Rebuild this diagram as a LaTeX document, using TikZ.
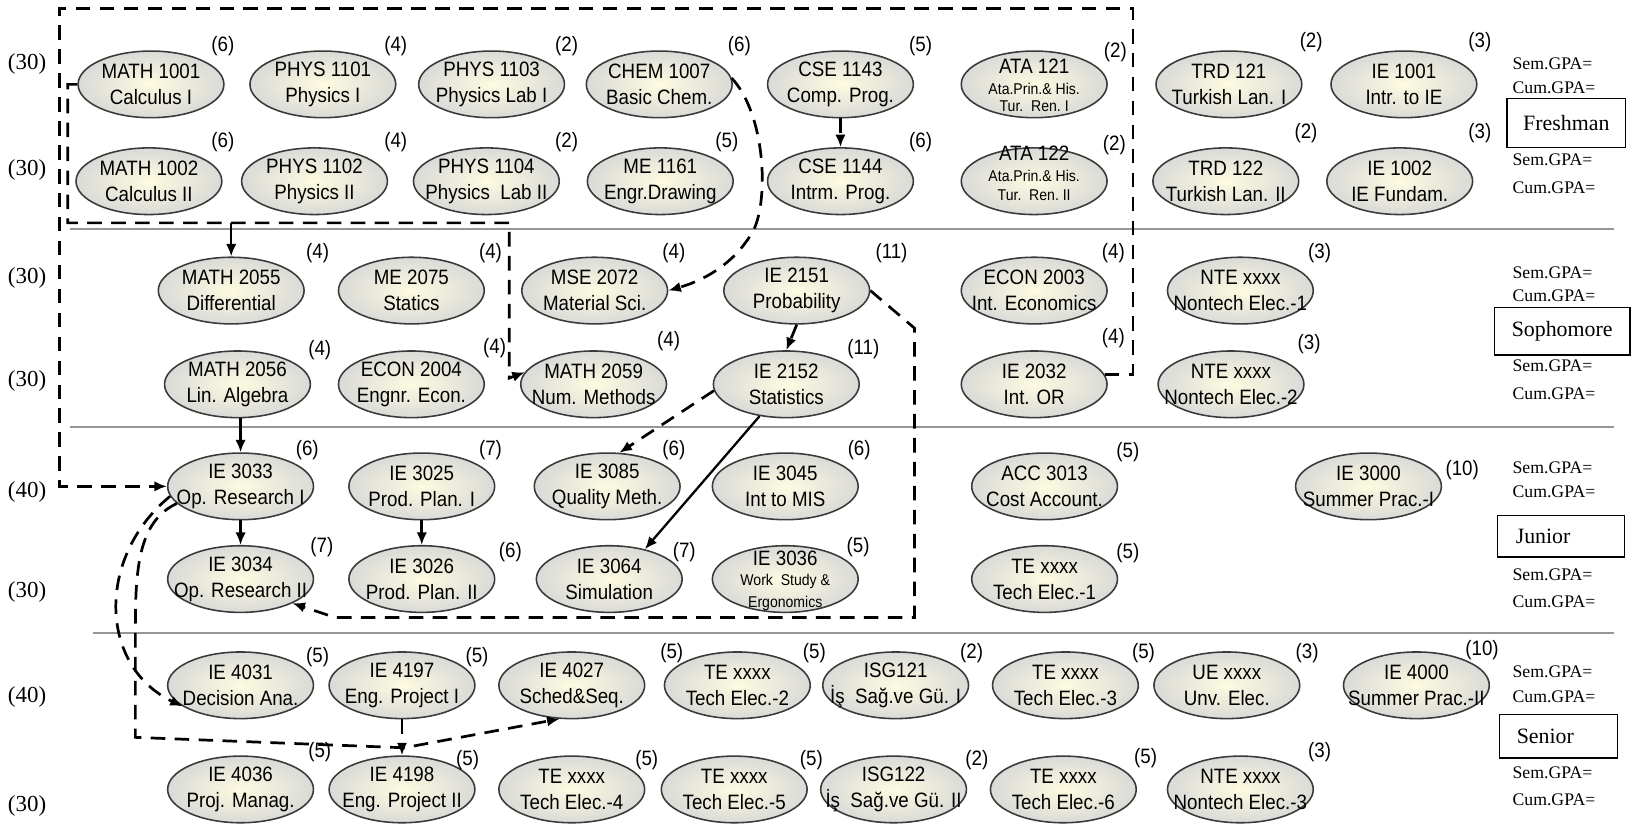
\documentclass[tikz,border=0pt]{standalone}
\usepackage{fontspec}
\setmainfont{Liberation Serif}
\newfontfamily\nsans{Liberation Sans}[FakeStretch=0.9]
\usetikzlibrary{shapes.geometric,arrows.meta}
\definecolor{ellout}{RGB}{218,218,216}
\definecolor{ellin}{RGB}{253,251,224}
\definecolor{ellline}{RGB}{58,58,58}
\definecolor{sepgray}{RGB}{150,150,150}
\tikzset{
  crs/.style={ellipse, draw=ellline, line width=0.75pt, inner color=ellin, outer color=ellout,
              minimum width=70pt, minimum height=32pt, inner sep=0pt},
  ctext/.style={font={\nsans\fontsize{10}{12.5}\selectfont}, align=center, inner sep=0pt},
  csmall/.style={font={\nsans\fontsize{7.5}{9}\selectfont}, inner sep=0pt},
  cred/.style={font={\nsans\fontsize{10}{12}\selectfont}, inner sep=0pt},
  rowlab/.style={font={\fontsize{11}{13}\selectfont}, inner sep=0pt},
  gpa/.style={font={\fontsize{8.5}{10}\selectfont}, anchor=west, inner sep=0pt},
  yearbox/.style={draw, line width=0.7pt, inner sep=0pt},
  yeartext/.style={font={\fontsize{10.5}{12}\selectfont}, inner sep=0pt},
  dsh/.style={line width=1.3pt, dash pattern=on 7pt off 4.5pt},
  sol/.style={line width=1.1pt},
  arr/.style={-{Latex[length=6pt,width=5pt]}},
  sep/.style={draw=sepgray, line width=0.8pt}
}
\newcommand\Crs[6]{%
  \node[crs] (#1) at (#2,#3) {};
  \node[ctext] (#1-t) at (#1.center) {#4};
  \node[cred] (#1-c) at (#5) {(#6)};}
\begin{document}
\begin{tikzpicture}[x=0.5pt,y=-0.5pt]
\fill[white] (0,0) rectangle (1568,794);
\useasboundingbox (0,0) rectangle (1568,794);

% separators
\draw[sep] (67,220) -- (1550,220);
\draw[sep] (67,410) -- (1550,410);
\draw[sep] (89,608) -- (1550,608);

% row labels
\node[rowlab] (l1) at (26,61) {(30)};
\node[rowlab] (l2) at (26,163) {(30)};
\node[rowlab] (l3) at (26,267) {(30)};
\node[rowlab] (l4) at (26,366) {(30)};
\node[rowlab] (l5) at (26,472) {(40)};
\node[rowlab] (l6) at (26,568) {(30)};
\node[rowlab] (l7) at (26,669) {(40)};
\node[rowlab] (l8) at (26,774) {(30)};

% Row 1
\Crs{m1001}{145}{81}{MATH 1001\\Calculus I}{214,44}{6}
\Crs{p1101}{310}{81}{PHYS 1101\\Physics I}{380,44}{4}
\Crs{p1103}{472}{81}{PHYS 1103\\Physics Lab I}{544,44}{2}
\Crs{c1007}{633}{81}{CHEM 1007\\Basic Chem.}{710,44}{6}
\Crs{cse1143}{807}{81}{CSE 1143\\Comp. Prog.}{884,44}{5}
\Crs{ata121}{993}{81}{}{1071,50}{2}
\node[ctext] (ata121-a) at ([yshift=8.5pt]ata121.center) {ATA 121};
\node[csmall] (ata121-b) at ([yshift=-2pt]ata121.center) {Ata.Prin.\& His.};
\node[csmall] (ata121-d) at ([yshift=-10.5pt]ata121.center) {Tur.\ \ Ren.\ I};
\Crs{trd121}{1180}{81}{TRD 121\\Turkish Lan. I}{1259,40}{2}
\Crs{ie1001}{1348}{81}{IE 1001\\Intr. to IE}{1421,40}{3}

% Row 2
\Crs{m1002}{143}{174}{MATH 1002\\Calculus II}{214,136}{6}
\Crs{p1102}{302}{174}{PHYS 1102\\Physics II}{380,136}{4}
\Crs{p1104}{467}{174}{PHYS 1104\\Physics\ \ Lab II}{544,136}{2}
\Crs{me1161}{634}{174}{ME 1161\\Engr.Drawing}{698,136}{5}
\Crs{cse1144}{807}{174}{CSE 1144\\Intrm. Prog.}{884,136}{6}
\Crs{ata122}{993}{174}{}{1070,139}{2}
\node[ctext] (ata122-a) at ([yshift=13.5pt]ata122.center) {ATA 122};
\node[csmall] (ata122-b) at ([yshift=2.5pt]ata122.center) {Ata.Prin.\& His.};
\node[csmall] (ata122-d) at ([yshift=-6.5pt]ata122.center) {Tur.\ \ Ren.\ II};
\Crs{trd122}{1177}{174}{TRD 122\\Turkish Lan. II}{1254,128}{2}
\Crs{ie1002}{1344}{174}{IE 1002\\IE Fundam.}{1421,128}{3}

% Row 3
\Crs{m2055}{222}{279}{MATH 2055\\Differential}{305,243}{4}
\Crs{me2075}{395}{279}{ME 2075\\Statics}{471,243}{4}
\Crs{mse2072}{571}{279}{MSE 2072\\Material Sci.}{647,243}{4}
\Crs{ie2151}{765}{279}{IE 2151\\Probability}{856,243}{11}
\Crs{econ2003}{993}{279}{ECON 2003\\Int. Economics}{1069,243}{4}
\Crs{nte1}{1191}{279}{NTE xxxx\\Nontech Elec.-1}{1267,243}{3}

% Row 4
\Crs{m2056}{228}{369}{MATH 2056\\Lin. Algebra}{307,336}{4}
\Crs{econ2004}{395}{369}{ECON 2004\\Engnr. Econ.}{475,334}{4}
\Crs{m2059}{570}{369}{MATH 2059\\Num. Methods}{642,328}{4}
\Crs{ie2152}{755}{369}{IE 2152\\Statistics}{829,335}{11}
\Crs{ie2032}{993}{369}{IE 2032\\Int. OR}{1069,325}{4}
\Crs{nte2}{1182}{369}{NTE xxxx\\Nontech Elec.-2}{1257,330}{3}

% Row 5
\Crs{ie3033}{231}{467}{IE 3033\\Op. Research I}{295,432}{6}
\Crs{ie3025}{405}{467}{IE 3025\\Prod. Plan. I}{471,432}{7}
\Crs{ie3085}{583}{467}{IE 3085\\Quality Meth.}{647,432}{6}
\Crs{ie3045}{754}{467}{IE 3045\\Int to MIS}{825,432}{6}
\Crs{acc3013}{1003}{467}{ACC 3013\\Cost Account.}{1083,434}{5}
\Crs{ie3000}{1314}{467}{IE 3000\\Summer Prac.-I}{1404,451}{10}

% Row 6
\Crs{ie3034}{231}{556}{IE 3034\\Op. Research II}{309,525}{7}
\Crs{ie3026}{405}{556}{IE 3026\\Prod. Plan. II}{490,530}{6}
\Crs{ie3064}{585}{556}{IE 3064\\Simulation}{657,530}{7}
\Crs{ie3036}{754}{556}{}{824,525}{5}
\node[ctext] (ie3036-a) at ([yshift=10pt]ie3036.center) {IE 3036};
\node[csmall] (ie3036-b) at ([yshift=-1pt]ie3036.center) {Work\ \ Study \&};
\node[csmall] (ie3036-d) at ([yshift=-11.5pt]ie3036.center) {Ergonomics};
\Crs{te1}{1003}{556}{TE xxxx\\Tech Elec.-1}{1083,531}{5}

% Row 7
\Crs{ie4031}{231}{658}{IE 4031\\Decision Ana.}{305,631}{5}
\Crs{ie4197}{386}{658}{IE 4197\\Eng. Project I}{458,631}{5}
\Crs{ie4027}{549}{658}{IE 4027\\Sched\&Seq.}{645,627}{5}
\Crs{te2}{708}{658}{TE xxxx\\Tech Elec.-2}{782,627}{5}
\Crs{isg121}{860}{658}{ISG121\\İş\ \ Sağ.ve Gü. I}{933,627}{2}
\Crs{te3}{1023}{658}{TE xxxx\\Tech Elec.-3}{1098,627}{5}
\Crs{ue}{1178}{658}{UE xxxx\\Unv. Elec.}{1255,627}{3}
\Crs{ie4000}{1360}{658}{IE 4000\\Summer Prac.-II}{1423,624}{10}

% Row 8
\Crs{ie4036}{231}{758}{IE 4036\\Proj. Manag.}{307,722}{5}
\Crs{ie4198}{386}{758}{IE 4198\\Eng. Project II}{449,730}{5}
\Crs{te4}{549}{758}{TE xxxx\\Tech Elec.-4}{621,730}{5}
\Crs{te5}{705}{758}{TE xxxx\\Tech Elec.-5}{779,730}{5}
\Crs{isg122}{858}{758}{ISG122\\İş\ \ Sağ.ve Gü. II}{938,730}{2}
\Crs{te6}{1021}{758}{TE xxxx\\Tech Elec.-6}{1100,728}{5}
\Crs{nte3}{1191}{758}{NTE xxxx\\Nontech Elec.-3}{1267,722}{3}

% GPA column and year boxes
\node[gpa] (g1) at (1452,61) {Sem.GPA=};
\node[gpa] (g2) at (1452,84) {Cum.GPA=};
\node[yearbox, minimum width=57pt, minimum height=23.5pt] (fresh) at (1504,118) {};
\node[yeartext] (fresh-t) at (fresh.center) {Freshman};
\node[gpa] (g3) at (1452,153) {Sem.GPA=};
\node[gpa] (g4) at (1452,180) {Cum.GPA=};

\node[gpa] (g5) at (1452,262) {Sem.GPA=};
\node[gpa] (g6) at (1452,284) {Cum.GPA=};
\node[yearbox, minimum width=65pt, minimum height=23pt] (soph) at (1500,318) {};
\node[yeartext] (soph-t) at (soph.center) {Sophomore};
\node[gpa] (g7) at (1452,351) {Sem.GPA=};
\node[gpa] (g8) at (1452,378) {Cum.GPA=};

\node[gpa] (g9) at (1452,449) {Sem.GPA=};
\node[gpa] (g10) at (1452,472) {Cum.GPA=};
\node[yearbox, minimum width=61pt, minimum height=20pt] (jun) at (1499,515) {};
\node[yeartext, anchor=west] (jun-t) at (1455,515) {Junior};
\node[gpa] (g11) at (1452,552) {Sem.GPA=};
\node[gpa] (g12) at (1452,578) {Cum.GPA=};

\node[gpa] (g13) at (1452,645) {Sem.GPA=};
\node[gpa] (g14) at (1452,669) {Cum.GPA=};
\node[yearbox, minimum width=56.5pt, minimum height=21pt] (sen) at (1496.5,707) {};
\node[yeartext, anchor=west] (sen-t) at (1456,707) {Senior};
\node[gpa] (g15) at (1452,742) {Sem.GPA=};
\node[gpa] (g16) at (1452,768) {Cum.GPA=};

% connectors
\draw[dsh,arr] (ie2032.8) -| (1088,8) -| (57,467) -- (ie3033.west);
\coordinate (br55) at (222,214);
\draw[dsh,arr] (m1001.west) -| (65,214) -| (489,363) -- (m2059.170);
\draw[sol,arr] (br55) -- (m2055.north);
\draw[dsh,arr] (c1007.5) .. controls (735,110) and (738,190) .. (724,220)
      .. controls (708,250) and (680,268) .. (mse2072.east);
\draw[dsh,arr] (cse1143.south) -- (cse1144.north);
\draw[dsh,arr] (ie2151.south) -- (ie2152.north);
\draw[dsh,arr] (ie2151.east) -- (878,315) -- (878,593) -- (322,593) -- (ie3034.-25);
\draw[dsh,arr] (ie2152.185) -- (ie3085.70);
\draw[sol,arr] (ie2152.230) -- (ie3064.40);
\draw[sol,arr] (ie3033.north |- m2056.south) -- (ie3033.north);
\draw[sol,arr] (ie3033.south) -- (ie3034.north);
\draw[dsh,arr] (ie3025.south) -- (ie3026.north);
\draw[dsh,arr] (ie3033.188) .. controls (92,535) and (95,640) .. (ie4031.200);
\draw[dsh,arr] (ie3033.195) .. controls (135,500) and (130,540) .. (130,600)
      -- (130,708) -- (388,718) -- (ie4027.250);
\draw[dsh,arr] (ie4197.south) -- (ie4198.north);
\end{tikzpicture}
\end{document}
